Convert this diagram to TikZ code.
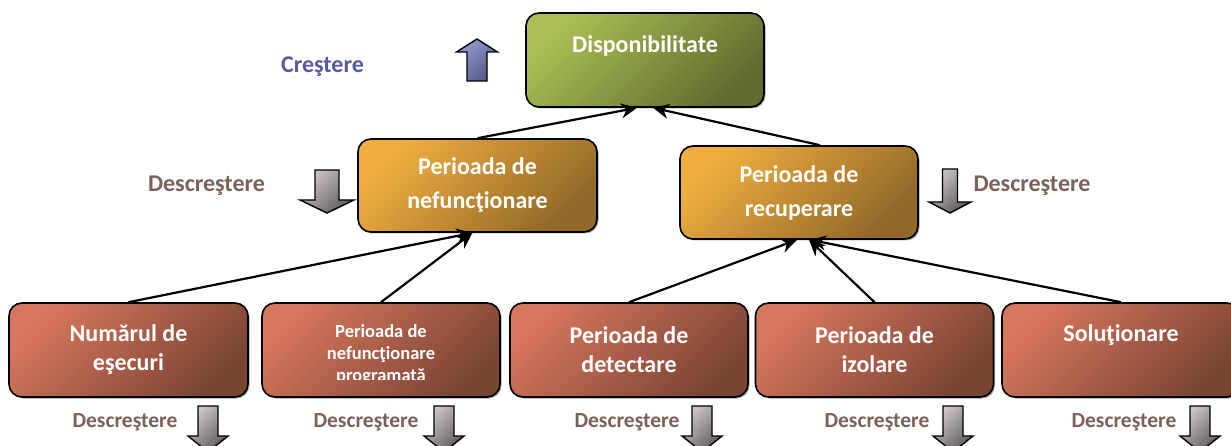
\documentclass[tikz,border=0pt]{standalone}
\usepackage{fontspec}
\setmainfont{Carlito}
\usetikzlibrary{arrows.meta,shadows}
\definecolor{oliveL}{RGB}{170,190,84}
\definecolor{oliveD}{RGB}{96,108,46}
\definecolor{orangeL}{RGB}{240,174,64}
\definecolor{orangeD}{RGB}{146,104,40}
\definecolor{redL}{RGB}{214,118,92}
\definecolor{redD}{RGB}{122,68,52}
\definecolor{greyL}{RGB}{208,200,200}
\definecolor{greyD}{RGB}{96,90,90}
\definecolor{blueL}{RGB}{150,156,210}
\definecolor{blueD}{RGB}{82,86,134}
\definecolor{upText}{RGB}{88,90,160}
\definecolor{downText}{RGB}{124,96,90}
\tikzset{
  box/.style={draw=black, line width=1.6pt, rounded corners=13pt,
    minimum width=238pt, minimum height=94pt, inner sep=0pt,
    drop shadow={shadow xshift=1.5pt, shadow yshift=-1.5pt, opacity=0.35, fill=black},
    text=white, align=center, font=\bfseries\fontsize{24}{29}\selectfont},
  boxA/.style={box, top color=oliveL, bottom color=oliveD, shading angle=45},
  boxB/.style={box, top color=orangeL, bottom color=orangeD, shading angle=45, font=\bfseries\fontsize{24}{34}\selectfont},
  boxC/.style={box, top color=redL, bottom color=redD, shading angle=45},
  conn/.style={line width=2.2pt, -{Stealth[length=16pt,width=15pt]}},
  uplbl/.style={text=upText, font=\bfseries\fontsize{24}{24}\selectfont, anchor=base, inner sep=0pt},
  dnlbl/.style={text=downText, font=\bfseries\fontsize{24}{24}\selectfont, anchor=base, inner sep=0pt},
  dnlblS/.style={dnlbl, font=\bfseries\fontsize{21.5}{21.5}\selectfont},
  grayarrow/.style={draw=black, line width=1.4pt, top color=greyL, bottom color=greyD, shading angle=45},
  bluearrow/.style={draw=black, line width=1.4pt, top color=blueL, bottom color=blueD, shading angle=45},
}
% block arrow: centre x, shaft start y, head base y, tip y, half shaft, half head
\newcommand{\blockarrowpath}[6]{({#1-#5},#2) -- ({#1+#5},#2) -- ({#1+#5},#3) -- ({#1+#6},#3) -- (#1,#4) -- ({#1-#6},#3) -- ({#1-#5},#3) -- cycle}
\begin{document}
\begin{tikzpicture}[x=1pt,y=-1pt]
\useasboundingbox (0,0) rectangle (1231,446);

% boxes
\node[boxA, text height=17pt, text depth=31pt] (dis) at (645,60) {Disponibilitate};
\node[boxB, minimum width=239pt, minimum height=93pt] (nef) at (477.5,185.5) {Perioada de\\nefuncţionare};
\node[boxB, minimum height=93pt] (rec) at (799,192.5) {Perioada de\\recuperare};
\node[boxC, minimum width=239pt] (b1) at (128.5,350) {Numărul de\\eşecuri};
\node[boxC] (b2) at (381,350) {};
\begin{scope}
  \clip (262,303) rectangle (500,379);
  \node[text=white, align=center, inner sep=0pt, font=\bfseries\fontsize{18.5}{22}\selectfont] (b2t) at (381,355) {Perioada de\\nefuncţionare\\programată};
\end{scope}
\node[boxC] (b3) at (629,350) {Perioada de\\detectare};
\node[boxC] (b4) at (874.5,350) {Perioada de\\izolare};
\node[boxC, text height=17pt, text depth=35pt] (b5) at (1121,350) {Soluţionare};

% connectors
\draw[conn] (nef.north) -- ([xshift=-8pt]dis.south);
\draw[conn] ([xshift=21pt]rec.north) -- ([xshift=8pt]dis.south);
\draw[conn] (b1.north) -- ([xshift=-5pt]nef.south);
\draw[conn] (b2.north) -- ([xshift=-5pt]nef.south);
\draw[conn] (b3.north) -- ([xshift=-2pt]rec.south);
\draw[conn] (b4.north) -- ([xshift=10pt]rec.south);
\draw[conn] (b5.north) -- ([xshift=11pt]rec.south);

% labels
\node[uplbl] (lup) at (322.5,73) {Creştere};
\node[dnlbl] (lnef) at (206.5,192) {Descreştere};
\node[dnlbl] (lrec) at (1032,192) {Descreştere};
\node[dnlblS] (l1) at (125,427) {Descreştere};
\node[dnlblS] (l2) at (366,427) {Descreştere};
\node[dnlblS] (l3) at (627,427) {Descreştere};
\node[dnlblS] (l4) at (877,427) {Descreştere};
\node[dnlblS] (l5) at (1124,427) {Descreştere};

% block arrows
\path[bluearrow] \blockarrowpath{477}{81}{52}{39}{10}{20.5};
\path[grayarrow] \blockarrowpath{327}{170}{200}{213}{12}{27};
\path[grayarrow] \blockarrowpath{950}{169}{202}{213}{7.5}{21};
\path[grayarrow] \blockarrowpath{208}{406}{436}{452}{10}{20};
\path[grayarrow] \blockarrowpath{444}{406}{436}{452}{10}{20};
\path[grayarrow] \blockarrowpath{702}{406}{436}{452}{10}{20};
\path[grayarrow] \blockarrowpath{953}{406}{436}{452}{10}{20};
\path[grayarrow] \blockarrowpath{1200}{406}{436}{452}{10}{20};
\end{tikzpicture}
\end{document}
